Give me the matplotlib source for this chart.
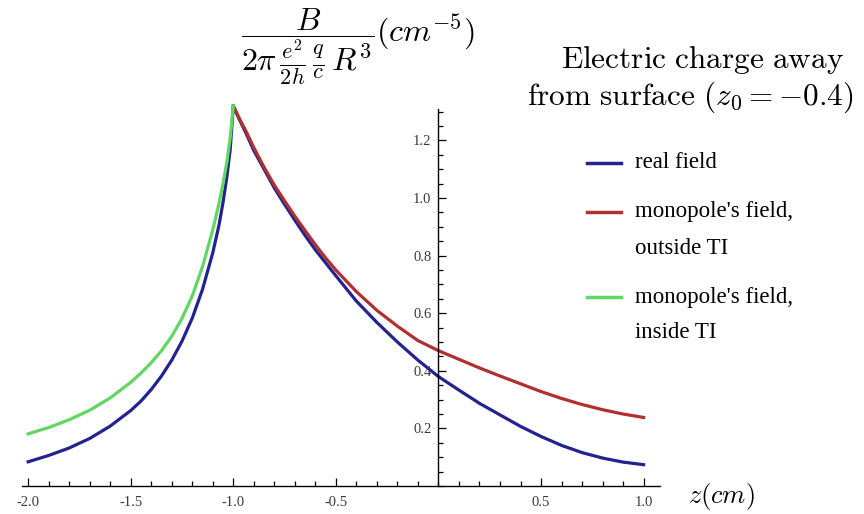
import numpy as np
import matplotlib
matplotlib.use("Agg")
import matplotlib.pyplot as plt
from matplotlib.lines import Line2D
from matplotlib.ticker import MultipleLocator, FixedLocator, FixedFormatter

plt.rcParams['mathtext.fontset'] = 'cm'

# values (z in cm)
z_real = [-2.0, -1.9, -1.8, -1.7, -1.6, -1.5, -1.45, -1.4, -1.35, -1.3, -1.25, -1.2, -1.15, -1.1,
          -1.07, -1.05, -1.03, -1.015, -1.0,
          -0.97, -0.94, -0.9, -0.85, -0.8, -0.75, -0.7, -0.65, -0.6, -0.55, -0.5, -0.4, -0.3, -0.2,
          -0.1, 0.0, 0.1, 0.2, 0.3, 0.4, 0.5, 0.6, 0.7, 0.8, 0.9, 1.0]
b_real = [0.084, 0.106, 0.132, 0.165, 0.208, 0.262, 0.295, 0.335, 0.382, 0.437, 0.503, 0.583, 0.683,
          0.81, 0.905, 0.985, 1.08, 1.17, 1.32,
          1.272, 1.228, 1.165, 1.10, 1.035, 0.978, 0.923, 0.87, 0.82, 0.775, 0.73, 0.642, 0.568, 0.50,
          0.437, 0.38, 0.333, 0.287, 0.247, 0.207, 0.172, 0.141, 0.116, 0.097, 0.083, 0.074]

z_out = [-1.0, -0.97, -0.94, -0.9, -0.85, -0.8, -0.75, -0.7, -0.65, -0.6, -0.55, -0.5, -0.4, -0.3,
         -0.2, -0.1, 0.0, 0.1, 0.2, 0.3, 0.4, 0.5, 0.6, 0.7, 0.8, 0.9, 1.0]
b_out = [1.32, 1.275, 1.235, 1.175, 1.107, 1.045, 0.99, 0.937, 0.887, 0.838, 0.792, 0.75, 0.675,
         0.61, 0.555, 0.505, 0.47, 0.44, 0.41, 0.382, 0.355, 0.328, 0.304, 0.283, 0.265, 0.25, 0.238]

z_in = [-2.0, -1.9, -1.8, -1.7, -1.6, -1.5, -1.45, -1.4, -1.35, -1.3, -1.25, -1.2, -1.15, -1.1,
        -1.07, -1.05, -1.03, -1.015, -1.0]
b_in = [0.181, 0.203, 0.230, 0.263, 0.306, 0.360, 0.392, 0.428, 0.470, 0.520, 0.582, 0.660, 0.762,
        0.89, 0.98, 1.05, 1.13, 1.21, 1.32]

labels = [["real field"], ["monopole's field,", "outside TI"], ["monopole's field,", "inside TI"]]
colors = ['#222290', '#b03030', '#62d662']

fig = plt.figure(figsize=(8.64, 5.14), dpi=100)
ax = fig.add_axes([22/864, 28/514, 638/864, 383/514])

ax.plot(z_real, b_real, color=colors[0], lw=2.3, clip_on=False, solid_joinstyle='round')
ax.plot(z_out, b_out, color=colors[1], lw=2.3, clip_on=False, solid_joinstyle='round')
ax.plot(z_in, b_in, color=colors[2], lw=2.3, clip_on=False, solid_joinstyle='round')

ax.set_xlim(-2.03, 1.08)
ax.set_ylim(0, 1.33)

for s in ['top', 'right']:
    ax.spines[s].set_visible(False)
ax.spines['left'].set_position(('data', 0))
ax.spines['bottom'].set_position(('data', 0))
ax.spines['left'].set_bounds(0, 1.31)
for s in ['left', 'bottom']:
    ax.spines[s].set_linewidth(1.0)

xt = [-2.0, -1.5, -1.0, -0.5, 0.5, 1.0]
ax.xaxis.set_major_locator(FixedLocator(xt))
ax.xaxis.set_major_formatter(FixedFormatter([f"{v:.1f}" for v in xt]))
ax.xaxis.set_minor_locator(MultipleLocator(0.1))
yt = [0.2, 0.4, 0.6, 0.8, 1.0, 1.2]
ax.yaxis.set_major_locator(FixedLocator(yt))
ax.yaxis.set_major_formatter(FixedFormatter([f"{v:.1f}" for v in yt]))
ax.yaxis.set_minor_locator(MultipleLocator(0.05))

ax.tick_params(which='both', direction='in', labelsize=10.5, colors='black', width=0.9)
ax.tick_params(which='major', length=6)
ax.tick_params(which='minor', length=3.5)
ax.tick_params(axis='x', pad=7)
ax.tick_params(axis='y', pad=5)
for lab in ax.get_xticklabels() + ax.get_yticklabels():
    lab.set_family('Liberation Serif')
    lab.set_color('#3a3a3a')

fig.text(688/864, 1 - 496/514, r'$z(cm)$', fontsize=19, ha='left', va='center')
fig.text(358/864, 1 - 47/514, r'$\dfrac{B}{2\pi\,\frac{e^2}{2h}\,\frac{q}{c}\,R^3}(cm^{-5})$',
         fontsize=23, ha='center', va='center')
fig.text(703/864, 1 - 60/514, r'$\mathrm{Electric\ charge\ away}$', fontsize=22.5, ha='center', va='center')
fig.text(690/864, 1 - 97/514, r'$\mathrm{from\ surface\ }(z_0=-0.4)$', fontsize=22.5, ha='center', va='center')

# legend drawn by hand, Mathematica style
leg_y = [163, 212, 297]
for lines, col, y in zip(labels, colors, leg_y):
    fig.add_artist(Line2D([587/864, 621/864], [1 - y/514, 1 - y/514], color=col, lw=2.5,
                          transform=fig.transFigure))
    for k, txt in enumerate(lines):
        fig.text(635/864, 1 - (y + 36*k)/514, txt, family='Liberation Serif', fontsize=16.5,
                 ha='left', va='center')

fig.savefig('out.png', dpi=100)
